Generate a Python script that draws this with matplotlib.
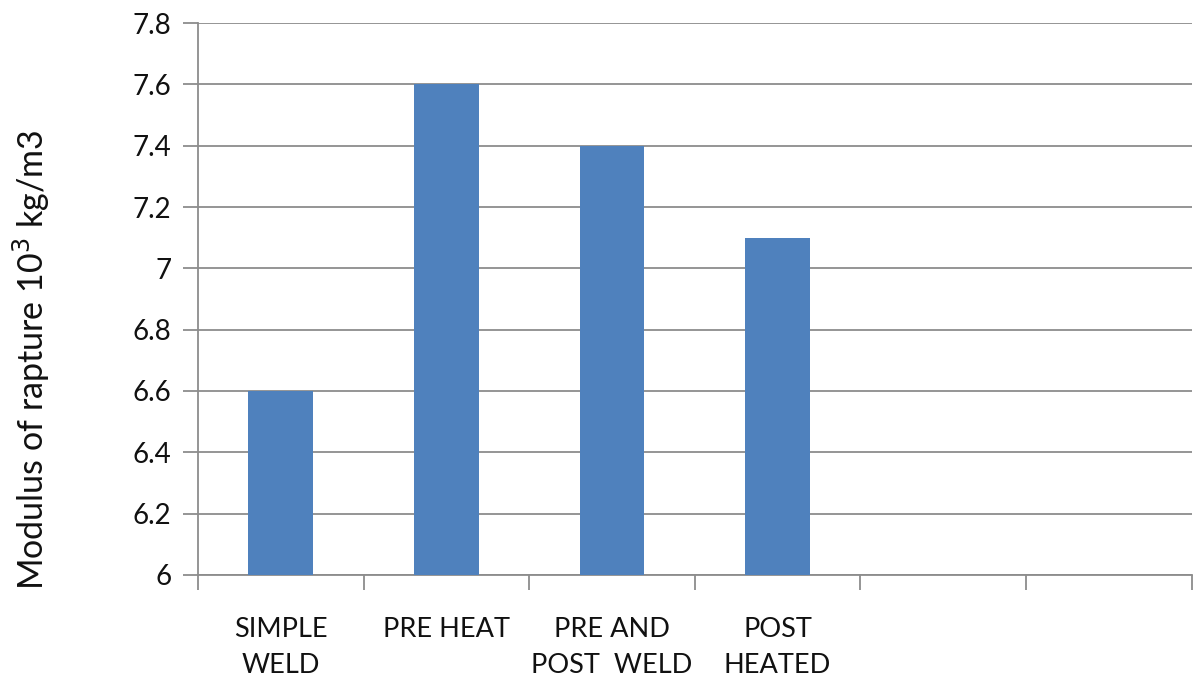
import matplotlib
matplotlib.use("Agg")
import matplotlib.pyplot as plt
import numpy as np

categories = ["SIMPLE\nWELD", "PRE HEAT", "PRE AND\nPOST  WELD", "POST\nHEATED", "", ""]
values = [6.6, 7.6, 7.4, 7.1]
y_ticks = [6.0, 6.2, 6.4, 6.6, 6.8, 7.0, 7.2, 7.4, 7.6, 7.8]
y_tick_labels = ["6", "6.2", "6.4", "6.6", "6.8", "7", "7.2", "7.4", "7.6", "7.8"]

plt.rcParams["font.family"] = ["Lato", "DejaVu Sans"]

fig = plt.figure(figsize=(11.94, 6.81), dpi=100)
ax = fig.add_axes([0.1658, 0.1557, 0.8322, 0.8105])

grid_color = "#8c8c8c"
text_color = "#111111"
x = np.arange(len(values))
ax.bar(x, values, width=0.39, color="#4F81BD", zorder=3, bottom=0)

ax.set_xlim(-0.5, len(categories) - 0.5)
ax.set_ylim(6.0, 7.8)

ax.set_yticks(y_ticks)
ax.set_yticklabels(y_tick_labels, fontsize=20, color=text_color)
ax.yaxis.grid(True, color=grid_color, linewidth=1.3, zorder=0)
ax.tick_params(axis="y", length=11, width=1.3, color=grid_color, pad=8)

# category labels centred in slots, tick marks on slot boundaries
ax.set_xticks(np.arange(len(categories)))
ax.set_xticklabels(categories, fontsize=19.5, color=text_color, linespacing=1.55)
ax.tick_params(axis="x", which="major", length=0, pad=30)
ax.set_xticks(np.arange(-0.5, len(categories)), minor=True)
ax.tick_params(axis="x", which="minor", length=11, width=1.3, color=grid_color)

for side in ["top", "right"]:
    ax.spines[side].set_visible(False)
for side in ["left", "bottom"]:
    ax.spines[side].set_color(grid_color)
    ax.spines[side].set_linewidth(1.3)

fig.text(0.026, 0.471, "Modulus of rapture 10$^{3}$ kg/m3", rotation=90,
         fontsize=24.5, color=text_color, ha="center", va="center")

fig.savefig("out.png", dpi=100)
